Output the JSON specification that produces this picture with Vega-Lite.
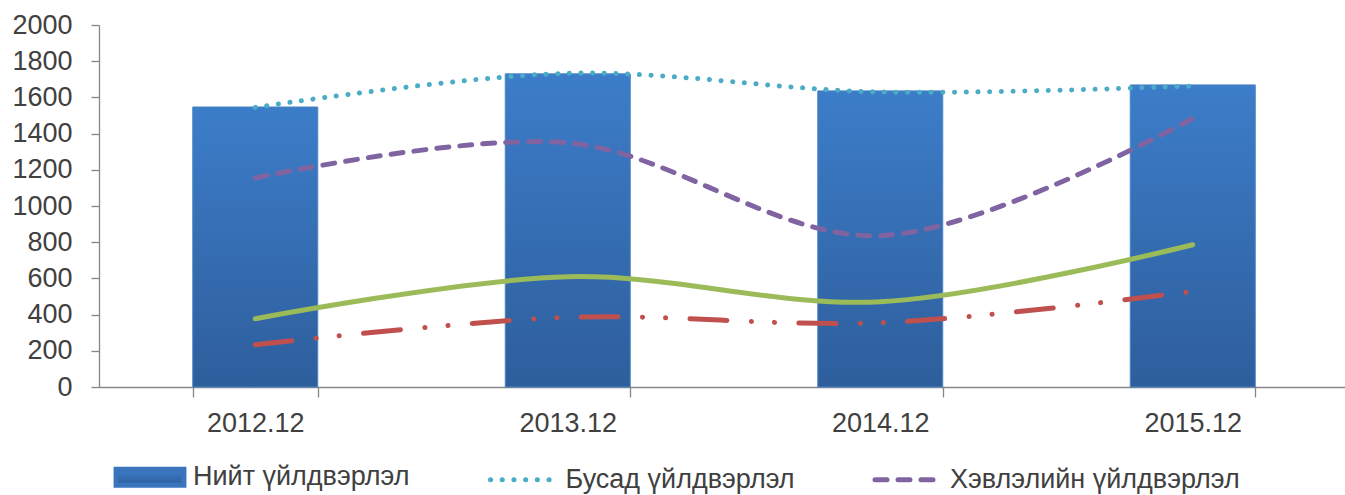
{
  "$schema": "https://vega.github.io/schema/vega-lite/v6.json",
  "autosize": "none",
  "width": 1250,
  "height": 362,
  "padding": {"left": 99, "top": 25, "right": 0, "bottom": 108},
  "background": "white",
  "config": {
    "view": {"stroke": null},
    "font": "Liberation Sans",
    "axis": {
      "labelFont": "Liberation Sans",
      "labelFontSize": 27,
      "labelColor": "#404040",
      "domainColor": "#868686",
      "tickColor": "#868686",
      "domainWidth": 1.3,
      "tickWidth": 1.3,
      "grid": false,
      "title": null
    }
  },
  "data": {
    "values": [
      {"year": "2012.12", "series": "Нийт үйлдвэрлэл", "value": 1547},
      {"year": "2013.12", "series": "Нийт үйлдвэрлэл", "value": 1730},
      {"year": "2014.12", "series": "Нийт үйлдвэрлэл", "value": 1636},
      {"year": "2015.12", "series": "Нийт үйлдвэрлэл", "value": 1669},
      {"year": "2012.12", "series": "Бусад үйлдвэрлэл", "value": 1545},
      {"year": "2013.12", "series": "Бусад үйлдвэрлэл", "value": 1733},
      {"year": "2014.12", "series": "Бусад үйлдвэрлэл", "value": 1630},
      {"year": "2015.12", "series": "Бусад үйлдвэрлэл", "value": 1663},
      {"year": "2012.12", "series": "Хэвлэлийн үйлдвэрлэл", "value": 1155},
      {"year": "2013.12", "series": "Хэвлэлийн үйлдвэрлэл", "value": 1349},
      {"year": "2014.12", "series": "Хэвлэлийн үйлдвэрлэл", "value": 836},
      {"year": "2015.12", "series": "Хэвлэлийн үйлдвэрлэл", "value": 1484},
      {"year": "2012.12", "series": "Цуврал 4", "value": 377},
      {"year": "2013.12", "series": "Цуврал 4", "value": 609},
      {"year": "2014.12", "series": "Цуврал 4", "value": 471},
      {"year": "2015.12", "series": "Цуврал 4", "value": 786},
      {"year": "2012.12", "series": "Цуврал 5", "value": 233},
      {"year": "2013.12", "series": "Цуврал 5", "value": 385},
      {"year": "2014.12", "series": "Цуврал 5", "value": 355},
      {"year": "2015.12", "series": "Цуврал 5", "value": 528}
    ]
  },
  "encoding": {
    "x": {
      "field": "year",
      "type": "ordinal",
      "sort": null,
      "scale": {"paddingInner": 0.6, "paddingOuter": 0.3},
      "axis": {"labelAngle": 0, "tickBand": "extent", "tickSize": 10, "labelPadding": 13}
    },
    "y": {
      "field": "value",
      "type": "quantitative",
      "scale": {"domain": [0, 2000], "nice": false},
      "axis": {"values": [0, 200, 400, 600, 800, 1000, 1200, 1400, 1600, 1800, 2000], "format": "d", "tickSize": 8, "labelPadding": 19}
    }
  },
  "layer": [
    {
      "transform": [{"filter": "datum.series === 'Нийт үйлдвэрлэл'"}],
      "mark": {
        "type": "bar",
        "fill": {
          "gradient": "linear", "x1": 0, "y1": 0, "x2": 0, "y2": 1,
          "stops": [{"offset": 0, "color": "#3c7dc9"}, {"offset": 1, "color": "#2e5e9c"}]
        },
        "stroke": "#4a84c4",
        "strokeWidth": 1
      }
    },
    {
      "transform": [{"filter": "datum.series !== 'Нийт үйлдвэрлэл'"}],
      "mark": {"type": "line", "interpolate": "catmull-rom", "strokeWidth": 5, "strokeCap": "round"},
      "encoding": {
        "color": {
          "field": "series",
          "type": "nominal",
          "scale": {
            "domain": ["Нийт үйлдвэрлэл", "Бусад үйлдвэрлэл", "Хэвлэлийн үйлдвэрлэл", "Цуврал 4", "Цуврал 5"],
            "range": ["#3a74bd", "#4bacc6", "#8064a2", "#9bbb59", "#c0504d"]
          },
          "legend": {
            "orient": "none",
            "legendX": 16.5,
            "legendY": 417.5,
            "direction": "horizontal",
            "values": ["Нийт үйлдвэрлэл", "Бусад үйлдвэрлэл", "Хэвлэлийн үйлдвэрлэл"],
            "title": null,
            "padding": 0,
            "labelFont": "Liberation Sans",
            "labelFontSize": 27,
            "labelColor": "#404040",
            "labelLimit": 400,
            "labelOffset": 8.5,
            "columnPadding": 69.5,
            "symbolType": "stroke",
            "symbolSize": 4096,
            "symbolStrokeWidth": 5,
            "encode": {
              "symbols": {
                "update": {
                  "shape": {"signal": "datum.value === 'Нийт үйлдвэрлэл' ? 'M-1.06,-0.25H1.06V0.25H-1.06Z' : 'stroke'"},
                  "fill": {"signal": "datum.value === 'Нийт үйлдвэрлэл' ? {gradient: 'linear', x1: 0, y1: 0, x2: 0, y2: 1, stops: [{offset: 0, color: '#3c7dc9'}, {offset: 1, color: '#2e5e9c'}]} : 'transparent'"},
                  "stroke": {"signal": "datum.value === 'Нийт үйлдвэрлэл' ? 'transparent' : scale('color', datum.value)"},
                  "strokeCap": {"value": "round"},
                  "strokeDash": {"signal": "datum.value === 'Бусад үйлдвэрлэл' ? [0.1, 11.6] : datum.value === 'Хэвлэлийн үйлдвэрлэл' ? [12, 11] : [2000, 1]"},
                  "opacity": {"value": 1}
                }
              }
            }
          }
        },
        "strokeDash": {
          "field": "series",
          "type": "nominal",
          "scale": {
            "domain": ["Бусад үйлдвэрлэл", "Хэвлэлийн үйлдвэрлэл", "Цуврал 4", "Цуврал 5"],
            "range": [[0.1, 11.6], [12, 11], [2000, 1], [37, 24.5, 0.1, 23, 0.1, 24.3]]
          },
          "legend": null
        }
      }
    }
  ]
}
